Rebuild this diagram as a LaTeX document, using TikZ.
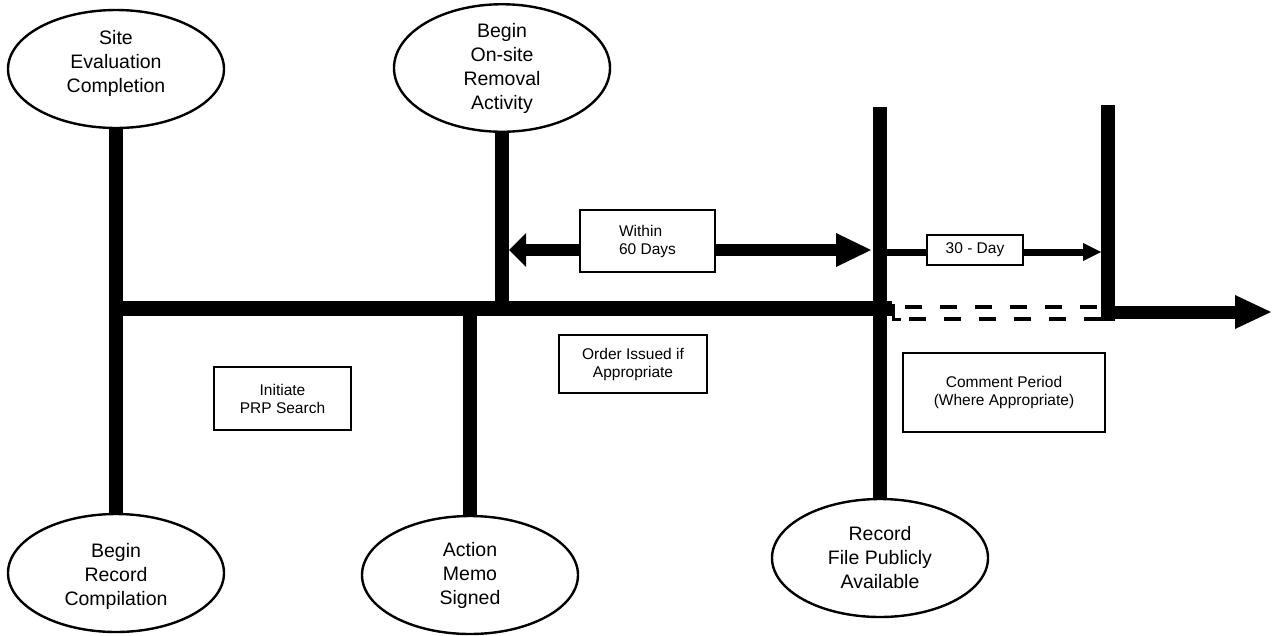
\documentclass[tikz,border=0pt]{standalone}
\usepackage{fontspec}
\setmainfont{Liberation Sans}
\usetikzlibrary{shapes.geometric,arrows.meta}
\begin{document}
\begin{tikzpicture}[x=1pt,y=-1pt,
  eventtext/.style={inner sep=0pt, align=center, font=\fontsize{19.5}{24}\selectfont},
  event/.style={draw, line width=2.4pt, ellipse, minimum width=216pt, minimum height=118pt,
    eventtext},
  note/.style={draw, line width=2.2pt, rectangle, inner sep=0pt, align=center,
    font=\fontsize{15.5}{18}\selectfont},
  bar/.style={line width=14pt},
  spine/.style={line width=15pt},
  bigarrow/.style={line width=12pt},
  bighead/.style={-{Triangle[length=35pt,width=34pt,line width=0pt]}},
  shorthead/.style={-{Triangle[length=17pt,width=34pt,line width=0pt]}},
  smallarrow/.style={line width=7pt},
  smallhead/.style={-{Triangle[length=18pt,width=18pt,line width=0pt]}},
  outarrow/.style={line width=13pt, -{Triangle[length=36pt,width=34pt,line width=0pt]}},
  dashline/.style={line width=4.5pt, dash pattern=on 17pt off 18pt}
]
\useasboundingbox (0,0) rectangle (1274,635);

% milestone ellipses
\node[event] (site)    at (116,69)  {};
\node[eventtext] (sitetext) at ([yshift=6pt]site.center) {Site\\Evaluation\\Completion};
\node[event] (begin)   at (502,68)  {Begin\\On-site\\Removal\\Activity};
\node[event] (record)  at (116,573) {};
\node[eventtext] (recordtext) at ([yshift=-3pt]record.center) {Begin\\Record\\Compilation};
\node[event] (action)  at (470,575) {Action\\Memo\\Signed};
\node[event] (recfile) at (880,558) {Record\\File Publicly\\Available};

% text boxes
\node[note, minimum width=137pt, minimum height=63pt] (prp)     at (282.5,398.5) {Initiate\\PRP Search};
\node[note, minimum width=148pt, minimum height=58pt] (order)   at (633,364)     {Order Issued if\\Appropriate};
\node[note, minimum width=135pt, minimum height=62pt, align=left] (within) at (647.5,241) {Within\\60 Days};
\node[note, minimum width=96pt,  minimum height=30pt] (day30)   at (975,250)     {30 - Day};
\node[note, minimum width=202pt, minimum height=79pt] (comment) at (1004,392.5)  {Comment Period\\(Where Appropriate)};

% time line
\coordinate (mainL) at (109,308.5);
\coordinate (mainR) at (892,308.5);
\coordinate (v4top) at (880,107);
\coordinate (v5top) at (1108,105);
\coordinate (v5bot) at (1108,321);
\coordinate (outstart) at (1115,312);
\coordinate (outend) at (1271,312);

\draw[spine] (mainL) -- (mainR);
\draw[bar] (site.south) -- (record.north);
\draw[bar] (begin.south) -- (begin.south |- mainL);
\draw[bar] (action.north |- mainL) -- (action.north);
\draw[bar] (v4top) -- (recfile.north);
\draw[bar] (v5top) -- (v5bot);
\draw[outarrow] (outstart) -- (outend);

% 60 day span
\coordinate (w1) at (509,250);
\coordinate (w2) at (871,250);
\draw[bigarrow, shorthead] (within.west |- w1) -- (w1);
\draw[bigarrow, bighead] (within.east |- w2) -- (w2);

% 30 day span
\coordinate (d1) at (887,252);
\coordinate (d2) at (1101,252);
\draw[smallarrow] (d1) -- (day30.west |- d1);
\draw[smallarrow, smallhead] (day30.east |- d2) -- (d2);

% comment period band
\coordinate (du1) at (905,307);
\coordinate (du2) at (1101,307);
\coordinate (dl0) at (893,304);
\coordinate (dl1) at (893,319);
\coordinate (dl2) at (1101,319);
\draw[line width=3pt] (dl0) -- (dl1) -- ++(8,0);
\draw[dashline] (du1) -- (du2);
\draw[dashline, dash phase=-6pt] (dl1) ++(10,0) -- (dl2);
\end{tikzpicture}
\end{document}
